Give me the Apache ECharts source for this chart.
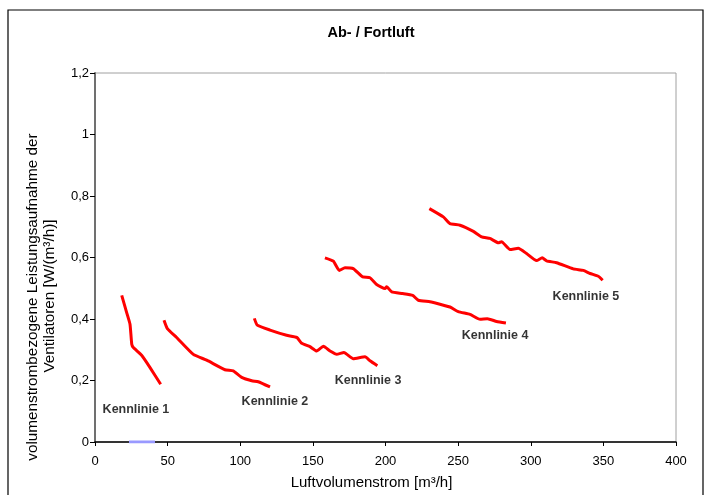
<!DOCTYPE html>
<html>
<head>
<meta charset="utf-8">
<script src="https://cdn.jsdelivr.net/npm/echarts@6/dist/echarts.min.js"></script>
<style>
html,body{margin:0;padding:0;background:#fff;}
#chart{width:706px;height:495px;}
</style>
</head>
<body>
<div id="chart"></div>
<script>
const titleText = 'Ab- / Fortluft';
const xAxisName = 'Luftvolumenstrom [m³/h]';
const yAxisLines = ['volumenstrombezogene Leistungsaufnahme der', 'Ventilatoren [W/(m³/h)]'];

const kennlinie1 = [[18.4,0.477],[21.8,0.421],[24.1,0.383],[25.3,0.318],[26.4,0.307],[32.1,0.282],[37.9,0.242],[45.2,0.188]];
const kennlinie2 = [[47.5,0.396],[49.8,0.369],[56.2,0.340],[67.7,0.285],[76.9,0.266],[89.5,0.235],[95.2,0.231],[101.0,0.210],[107.9,0.199],[112.4,0.196],[120.5,0.179]];
const kennlinie3 = [[109.7,0.402],[111.7,0.380],[120.5,0.364],[131.9,0.347],[138.9,0.340],[142.3,0.321],[148.0,0.310],[152.6,0.296],[157.2,0.311],[161.8,0.296],[166.4,0.285],[171.4,0.291],[177.8,0.271],[185.9,0.277],[189.3,0.264],[194.4,0.248]];
const kennlinie4 = [[158.3,0.599],[164.1,0.588],[168.2,0.558],[172.1,0.567],[177.8,0.564],[184.3,0.537],[189.3,0.534],[193.9,0.512],[199.7,0.499],[200.8,0.505],[204.3,0.488],[211.8,0.483],[218.7,0.477],[222.6,0.461],[230.6,0.456],[237.5,0.448],[244.4,0.439],[250.1,0.424],[258.2,0.415],[265.1,0.399],[270.1,0.401],[276.5,0.392],[282.9,0.387]];
const kennlinie5 = [[230.2,0.759],[239.8,0.732],[244.4,0.710],[251.3,0.705],[260.5,0.685],[266.2,0.667],[271.9,0.662],[277.7,0.648],[279.9,0.651],[285.7,0.626],[291.4,0.630],[297.1,0.613],[304.0,0.590],[307.9,0.599],[310.9,0.589],[317.8,0.583],[329.3,0.563],[336.2,0.558],[340.8,0.548],[346.5,0.539],[349.5,0.526]];
const baseSegment = [[23.4,0],[41.3,0]];

const curveNames = ['Kennlinie 1','Kennlinie 2','Kennlinie 3','Kennlinie 4','Kennlinie 5'];
const curveLabelAnchors = [[28.2,0.104],[123.9,0.133],[188.0,0.201],[275.4,0.347],[338.0,0.474]];

const FONT = '"Liberation Sans", Arial, sans-serif';
const chart = echarts.init(document.getElementById('chart'));

const curves = [kennlinie1, kennlinie2, kennlinie3, kennlinie4, kennlinie5];
const series = curves.map((d, i) => ({
  name: curveNames[i],
  type: 'line',
  data: d,
  showSymbol: false,
  symbol: 'none',
  smooth: 0.15,
  lineStyle: { color: '#ff0000', width: 3 },
  z: 3
}));
series.push({
  type: 'line',
  data: baseSegment,
  symbol: 'none',
  lineStyle: { color: '#9999ff', width: 3 },
  z: 5
});
series.push({
  type: 'scatter',
  symbolSize: 0,
  data: curveNames.map((n, i) => ({ name: n, value: curveLabelAnchors[i] })),
  label: {
    show: true,
    position: 'inside',
    formatter: '{b}',
    fontFamily: FONT,
    fontWeight: 'bold',
    fontSize: 12.5,
    color: '#000'
  },
  z: 6
});

chart.setOption({
  animation: false,
  backgroundColor: '#fff',
  title: {
    text: titleText,
    left: 366,
    top: 20,
    textAlign: 'center',
    textStyle: { fontFamily: FONT, fontWeight: 'bold', fontSize: 14.5, color: '#000' }
  },
  grid: {
    left: 95, right: 30, top: 73, bottom: 52,
    show: true, borderColor: '#a0a0a0', borderWidth: 1, backgroundColor: 'transparent'
  },
  xAxis: {
    type: 'value',
    min: 0, max: 400, interval: 50,
    name: xAxisName,
    nameLocation: 'middle',
    nameGap: 33,
    nameTextStyle: { fontFamily: FONT, fontSize: 15, color: '#000', padding: [0, 28, 0, 0] },
    axisLine: { show: true, onZero: false, lineStyle: { color: '#000', width: 1.5 } },
    axisTick: { show: true, length: 4, inside: false, lineStyle: { color: '#000' } },
    axisLabel: { fontFamily: FONT, fontSize: 13, color: '#000', margin: 13 },
    splitLine: { show: false }
  },
  yAxis: {
    type: 'value',
    min: 0, max: 1.2, interval: 0.2,
    axisLine: { show: true, lineStyle: { color: '#707070', width: 2 } },
    axisTick: { show: true, length: 5, lineStyle: { color: '#000' } },
    axisLabel: {
      fontFamily: FONT, fontSize: 13, color: '#000', margin: 6,
      formatter: v => String(+v.toFixed(1)).replace('.', ',')
    },
    splitLine: { show: false }
  },
  graphic: [
    {
      type: 'rect',
      shape: { x: 8, y: 10, width: 695, height: 495 },
      style: { fill: 'none', stroke: '#000', lineWidth: 1.2 },
      silent: true, z: 0
    },
    {
      type: 'text', x: 33, y: 297, rotation: Math.PI / 2,
      style: { text: yAxisLines[0], fontFamily: FONT, fontSize: 15.3, fill: '#000', textAlign: 'center', textVerticalAlign: 'middle' }
    },
    {
      type: 'text', x: 50, y: 296, rotation: Math.PI / 2,
      style: { text: yAxisLines[1], fontFamily: FONT, fontSize: 15.3, fill: '#000', textAlign: 'center', textVerticalAlign: 'middle' }
    }
  ],
  series: series
});
</script>
</body>
</html>
